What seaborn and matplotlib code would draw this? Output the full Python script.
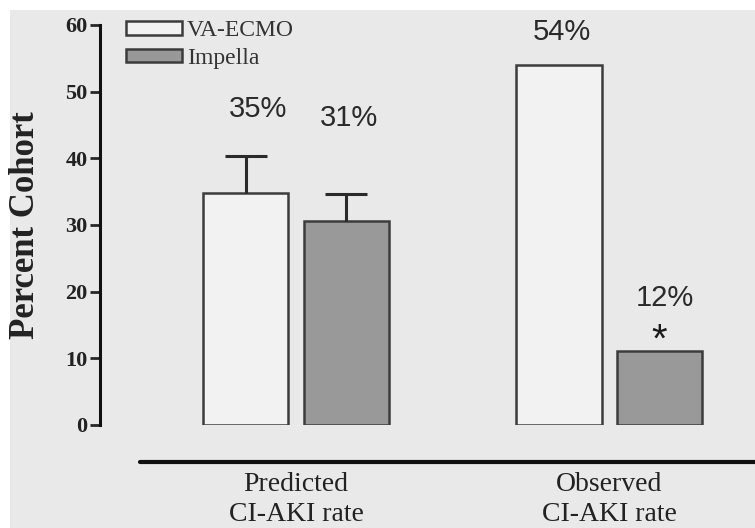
import pandas as pd
import numpy as np
import matplotlib
matplotlib.use("Agg")
import matplotlib.pyplot as plt
import seaborn as sns
from matplotlib.lines import Line2D
from matplotlib.patches import Rectangle

# data
categories = ["Predicted\nCI-AKI rate", "Observed\nCI-AKI rate"]
devices = ["VA-ECMO", "Impella"]
va_ecmo = [34.8, 54.0]
impella = [30.6, 11.1]
va_ecmo_err = [5.5, np.nan]
impella_err = [4.0, np.nan]
va_ecmo_lbl = ["35%", "54%"]
impella_lbl = ["31%", "12%"]

df = pd.DataFrame({
    "category": categories * 2,
    "device": [devices[0]] * 2 + [devices[1]] * 2,
    "value": va_ecmo + impella,
    "err": va_ecmo_err + impella_err,
    "label": va_ecmo_lbl + impella_lbl,
})

sns.set_style("white")
plt.rcParams["font.family"] = ["Liberation Serif", "DejaVu Serif"]

fig = plt.figure(figsize=(7.55, 5.28), dpi=100, facecolor="white")
fig.patches.append(Rectangle((10 / 755, 0), 1, 1 - 10 / 528, transform=fig.transFigure,
                             facecolor="#e9e9e9", edgecolor="none", zorder=-10))
ax = fig.add_axes([100 / 755, 1 - 425 / 528, 1 - 100 / 755, 400 / 528])
ax.set_facecolor("none")

sns.barplot(data=df, x="category", y="value", hue="device", order=categories,
            hue_order=devices, palette=["#f2f2f2", "#999999"], width=0.64, gap=0.15,
            edgecolor="#3c3c3c", linewidth=1.8, errorbar=None, ax=ax)

# where the percent labels sit (offset in points from bar/error top)
label_offset = {"35%": (9, 34), "31%": (2, 55), "54%": (2, 24), "12%": (4, 38)}

bars = [p for p in ax.patches if p.get_height() > 0]
xs = [b.get_x() + b.get_width() / 2 for b in bars]
for x, (_, row) in zip(xs, df.iterrows()):
    top = row["value"]
    if not np.isnan(row["err"]):
        eb = ax.errorbar(x, row["value"], yerr=[[0], [row["err"]]], fmt="none",
                         ecolor="#2a2a2a", elinewidth=2.2, capsize=15, capthick=2.2,
                         zorder=1)
        eb[1][0].set_visible(False)
        top = row["value"] + row["err"]
    dx, dy = label_offset[row["label"]]
    ax.annotate(row["label"], (x, top), xytext=(dx, dy), textcoords="offset points",
                ha="center", va="center", fontsize=21, family="Liberation Sans",
                color="#2a2a2a")
    if row["label"] == "12%":
        ax.annotate("*", (x, row["value"]), xytext=(0, -6), textcoords="offset points",
                    ha="center", va="bottom", fontsize=29, family="Liberation Sans",
                    color="#1a1a1a")

ax.set_ylim(0, 60)
ax.set_xlim(-0.626, 1.466)
ax.set_yticks(range(0, 61, 10))
ax.tick_params(axis="y", direction="out", length=7, width=2, left=True, pad=2,
               labelsize=16)
for t in ax.get_yticklabels():
    t.set_fontweight("bold")
    t.set_color("#222222")
ax.tick_params(axis="x", length=0, pad=34, labelsize=20)
for t in ax.get_xticklabels():
    t.set_color("#222222")
    t.set_linespacing(1.25)
for s in ["top", "right", "bottom"]:
    ax.spines[s].set_visible(False)
ax.spines["left"].set_linewidth(2.2)
ax.spines["left"].set_color("#111111")
ax.set_xlabel("")
ax.set_ylabel("Percent Cohort", fontsize=25, fontweight="bold", color="#222222")
ax.yaxis.set_label_coords(-0.089, 0.5)

# separator line under the plot
fig.add_artist(Line2D([140 / 755, 1], [1 - 462 / 528] * 2, transform=fig.transFigure,
                      color="#111111", linewidth=3))

leg = ax.legend(loc="upper left", bbox_to_anchor=(0.025, 1.035), frameon=False,
                fontsize=17, handlelength=2.4, handleheight=0.5, labelspacing=0.28,
                handletextpad=0.2, borderaxespad=0)
for t in leg.get_texts():
    t.set_color("#333333")

fig.savefig("out.png", dpi=100, facecolor=fig.get_facecolor())
